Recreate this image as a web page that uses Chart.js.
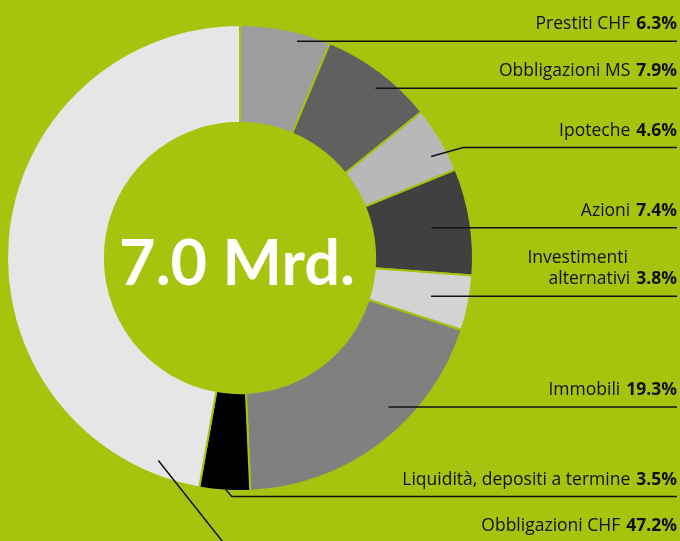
<!DOCTYPE html>
<html>
<head>
<meta charset="utf-8">
<script src="https://cdn.jsdelivr.net/npm/chart.js@4/dist/chart.umd.min.js"></script>
<style>
  html, body { margin: 0; padding: 0; background: #a5c40e; }
  #wrap { width: 680px; height: 541px; position: relative; }
</style>
</head>
<body>
<div id="wrap"><canvas id="c" width="680" height="541"></canvas></div>
<script>
// ---- data ----
const categories = ['Prestiti CHF', 'Obbligazioni MS', 'Ipoteche', 'Azioni', 'Investimenti alternativi', 'Immobili', 'Liquidità, depositi a termine', 'Obbligazioni CHF'];
const shares = [6.3, 7.9, 4.6, 7.4, 3.8, 19.3, 3.5, 47.2];
const totalLabel = '7.0 Mrd.';

// ---- styling / layout (not data) ----
const bgGreen = '#a5c40e';
const sliceColors = ['#9d9d9d', '#606060', '#b8b8b8', '#404040', '#d3d3d3', '#808080', '#000000', '#e6e6e6'];
const labelLines = [['Prestiti CHF'], ['Obbligazioni MS'], ['Ipoteche'], ['Azioni'], ['Investimenti', 'alternativi'], ['Immobili'], ['Liquidità, depositi a termine'], ['Obbligazioni CHF']];
// anchor: t = fraction along slice angle, f = fraction across ring thickness
const leaderLayout = [
  { t: 0.65, f: 0.91 },
  { t: 0.56, f: 0.84 },
  { t: 0.66, f: 0.83, elbow: [32, -9] },
  { t: 0.50, f: 0.60 },
  { t: 0.51, f: 0.61, firstLineShift: 49 },
  { t: 0.39, f: 0.77 },
  { t: 0.48, f: 0.99, elbow: [6, 7] },
  { t: 0.07, f: 0.85, tail: [80, 101], textBaseline: 531 }
];
const labelRight = 677;
const labelGap = 6;
const labelFont = '17.5px "Open Sans"';
const labelBold = 'bold 17.5px "Open Sans"';

const labelsPlugin = {
  id: 'labels',
  afterDatasetsDraw(chart) {
    const ctx = chart.ctx;
    const meta = chart.getDatasetMeta(0);
    const first = meta.data[0];
    // center text
    ctx.save();
    ctx.fillStyle = '#ffffff';
    ctx.font = 'bold 63px Lato';
    ctx.textAlign = 'center';
    ctx.textBaseline = 'alphabetic';
    ctx.fillText(totalLabel, first.x - 3, first.y + 27);
    ctx.restore();

    meta.data.forEach((arc, i) => {
      const L = leaderLayout[i];
      const ang = arc.startAngle + L.t * (arc.endAngle - arc.startAngle);
      const r = arc.innerRadius + L.f * (arc.outerRadius - arc.innerRadius);
      const ax = arc.x + Math.cos(ang) * r;
      const ay = arc.y + Math.sin(ang) * r;
      ctx.save();
      ctx.strokeStyle = '#111111';
      ctx.lineWidth = 1.5;
      ctx.beginPath();
      ctx.moveTo(ax, ay);
      let lineY = ay;
      if (L.tail) {
        ctx.lineTo(ax + L.tail[0], ay + L.tail[1]);
      } else {
        if (L.elbow) {
          ctx.lineTo(ax + L.elbow[0], ay + L.elbow[1]);
          lineY = ay + L.elbow[1];
        }
        ctx.lineTo(labelRight, lineY);
      }
      ctx.stroke();

      // text
      const lines = labelLines[i];
      const pct = shares[i].toFixed(1) + '%';
      let base = L.textBaseline !== undefined ? L.textBaseline : lineY - 12;
      ctx.fillStyle = '#111111';
      ctx.textBaseline = 'alphabetic';
      ctx.textAlign = 'right';
      ctx.font = labelBold;
      ctx.fillText(pct, labelRight, base);
      const pw = ctx.measureText(pct).width;
      ctx.font = labelFont;
      ctx.fillText(lines[lines.length - 1], labelRight - pw - labelGap, base);
      for (let k = lines.length - 2; k >= 0; k--) {
        base -= 21;
        ctx.fillText(lines[k], labelRight - (L.firstLineShift || 0), base);
      }
      ctx.restore();
    });
  }
};

new Chart(document.getElementById('c'), {
  type: 'doughnut',
  data: {
    labels: categories,
    datasets: [{
      data: shares,
      backgroundColor: sliceColors,
      borderColor: bgGreen,
      borderWidth: 2,
      hoverOffset: 0
    }]
  },
  options: {
    responsive: false,
    animation: false,
    cutout: '58%',
    layout: { padding: { left: 6, right: 206, top: 24, bottom: 49 } },
    plugins: { legend: { display: false }, tooltip: { enabled: false } },
    events: []
  },
  plugins: [labelsPlugin]
});
</script>
</body>
</html>
